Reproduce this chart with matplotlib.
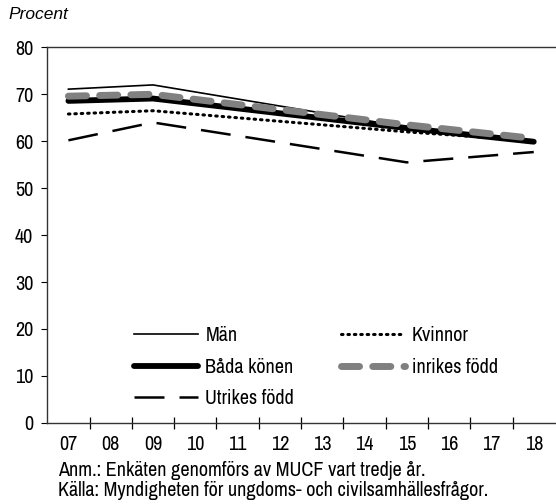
import numpy as np
import matplotlib.pyplot as plt
from matplotlib.ticker import FixedLocator, NullFormatter

plt.rcParams['font.family'] = ['Archivo Narrow', 'Liberation Sans', 'DejaVu Sans']

# survey years and values (percent)
years = [2007, 2009, 2015, 2018]
man = [71.1, 72.0, 63.0, 59.7]
kvinnor = [65.8, 66.5, 62.0, 60.1]
bada = [68.6, 69.1, 62.8, 59.9]
inrikes = [69.6, 70.0, 63.5, 60.6]
utrikes = [60.2, 64.0, 55.5, 57.7]

all_years = list(range(2007, 2019))
year_labels = [f'{y % 100:02d}' for y in all_years]

fig = plt.figure(figsize=(5.56, 5.04), dpi=100)
ax = fig.add_axes([0.085, 0.161, 0.913, 0.745])

ax.plot(years, man, color='black', lw=1.2, label='Män')
ax.plot(years, kvinnor, color='black', lw=2.2, linestyle=(0, (0.5, 1.6)),
        dash_capstyle='round', label='Kvinnor')
ax.plot(years, bada, color='black', lw=4.2, solid_capstyle='round', label='Båda könen')
ax.plot(years, inrikes, color='#808080', lw=5, linestyle=(0, (2.6, 1.9)),
        dash_capstyle='round', label='inrikes född')
ax.plot(years, utrikes, color='black', lw=1.8, linestyle=(0, (12, 6)),
        label='Utrikes född')

ax.set_xlim(2006.5, 2018.5)
ax.set_ylim(0, 80)
ax.set_yticks(range(0, 81, 10))
ax.set_xticks(all_years)
ax.set_xticklabels(year_labels)
ax.tick_params(axis='x', which='major', length=0, pad=9, labelsize=14.5)
ax.xaxis.set_minor_locator(FixedLocator(np.arange(2007.5, 2018, 1)))
ax.xaxis.set_minor_formatter(NullFormatter())
ax.tick_params(axis='x', which='minor', direction='inout', length=9, width=0.9)
ax.tick_params(axis='y', direction='out', length=4, width=0.8, labelsize=14.5, pad=6)

for s in ['left', 'bottom', 'top']:
    ax.spines[s].set_linewidth(1.0)
    ax.spines[s].set_color('#333333')
ax.spines['right'].set_visible(False)

# legend order: Män, Båda könen, Utrikes | Kvinnor, inrikes
h, l = ax.get_legend_handles_labels()
order = [0, 2, 4, 1, 3]
ax.legend([h[i] for i in order], [l[i] for i in order], ncol=2, frameon=False,
          loc='lower left', bbox_to_anchor=(0.135, -0.01), fontsize=14.5,
          handlelength=3.2, handletextpad=0.35, labelspacing=0.63,
          columnspacing=2.3)

fig.text(0.016, 0.972, 'Procent', fontsize=12.5, style='italic',
         family=['Liberation Sans', 'DejaVu Sans'], va='center')
fig.text(0.104, 0.067, 'Anm.: Enkäten genomförs av MUCF vart tredje år.',
         fontsize=14.5, va='center')
fig.text(0.104, 0.027, 'Källa: Myndigheten för ungdoms- och civilsamhällesfrågor.',
         fontsize=14.5, va='center')

fig.savefig('out.png', dpi=100)
